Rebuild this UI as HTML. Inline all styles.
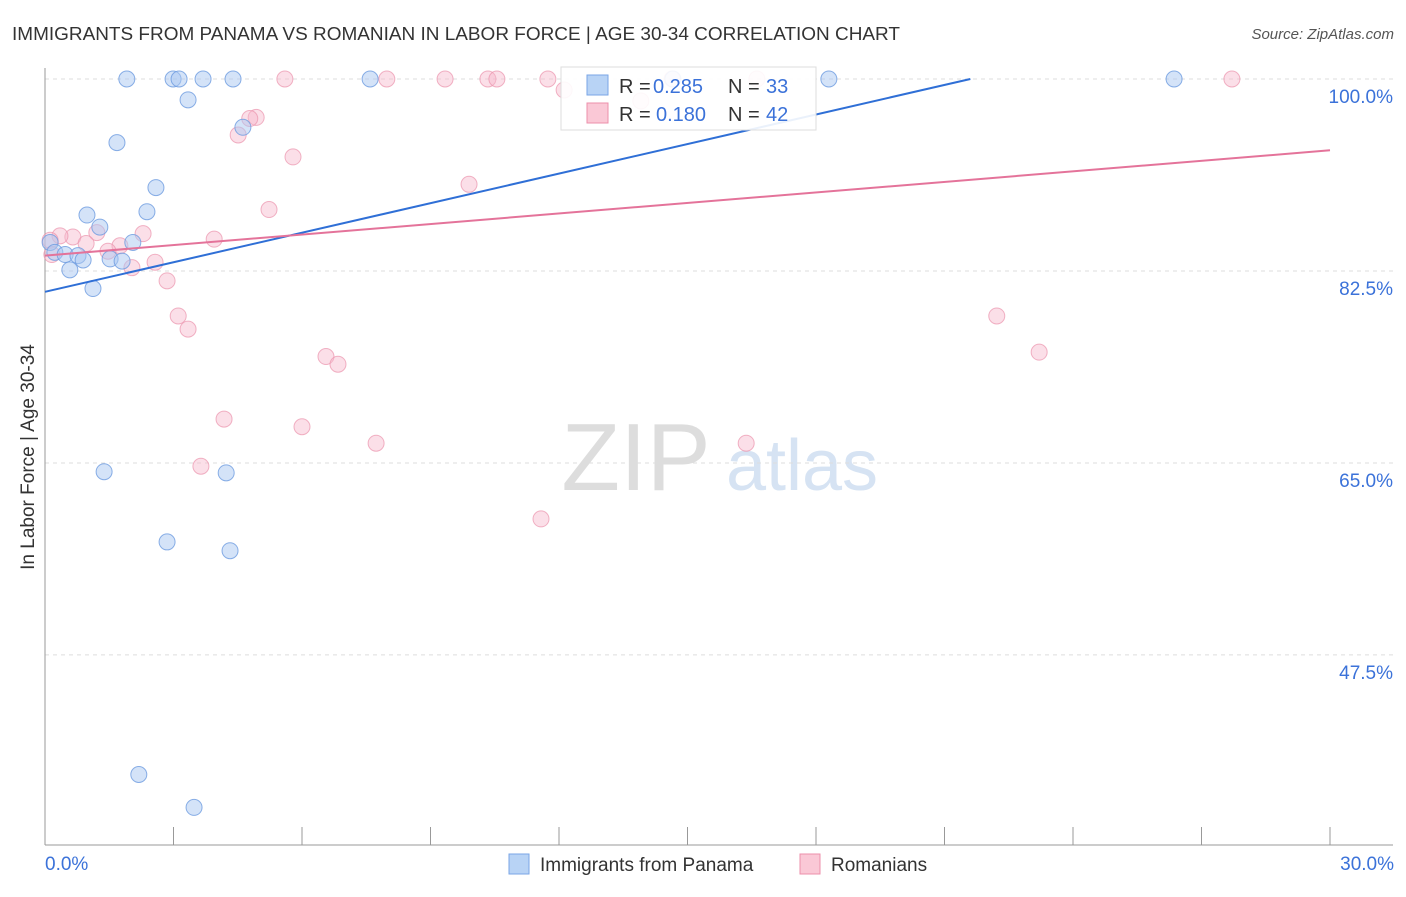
<!DOCTYPE html>
<html><head><meta charset="utf-8"><style>
body{margin:0;background:#fff;font-family:"Liberation Sans",sans-serif;}
svg text{font-family:"Liberation Sans",sans-serif;}
</style></head><body>
<svg id="chart" width="1406" height="892" xmlns="http://www.w3.org/2000/svg">
<text x="12" y="40" font-size="18" fill="#333" textLength="888" lengthAdjust="spacingAndGlyphs">IMMIGRANTS FROM PANAMA VS ROMANIAN IN LABOR FORCE | AGE 30-34 CORRELATION CHART</text>
<text x="1394" y="39" font-size="15" fill="#555" font-style="italic" text-anchor="end">Source: ZipAtlas.com</text>
<g>
<text x="636" y="490" font-size="96" fill="#ddd" font-family="Liberation Serif" text-anchor="middle">ZIP</text>
<text x="802" y="490" font-size="72" fill="#d6e3f3" text-anchor="middle">atlas</text>
</g>
<g id="grid"></g>
<g id="axes"></g>
<g id="points"></g>
<g id="lines"></g>
<text x="34" y="457" font-size="19" fill="#333" text-anchor="middle" transform="rotate(-90 34 457)">In Labor Force | Age 30-34</text>
<text x="45" y="870" font-size="19" fill="#3b72d9">0.0%</text>
<text x="1394" y="870" font-size="19" fill="#3b72d9" text-anchor="end">30.0%</text>
<g>
<rect x="561" y="67" width="255" height="63" fill="#fff" fill-opacity="0.9" stroke="#ddd"/>
<rect x="587" y="75" width="21" height="20" fill="#b8d3f5" stroke="#7aa6e6"/>
<text x="619" y="93" font-size="20" fill="#333">R =</text>
<text x="653" y="93" font-size="20" fill="#3b72d9">0.285</text>
<text x="728" y="93" font-size="20" fill="#333">N =</text>
<text x="766" y="93" font-size="20" fill="#3b72d9">33</text>
<rect x="587" y="103" width="21" height="20" fill="#fac8d6" stroke="#ec8fab"/>
<text x="619" y="121" font-size="20" fill="#333">R =</text>
<text x="656" y="121" font-size="20" fill="#3b72d9">0.180</text>
<text x="728" y="121" font-size="20" fill="#333">N =</text>
<text x="766" y="121" font-size="20" fill="#3b72d9">42</text>
</g>
<g>
<rect x="509" y="854" width="20" height="20" fill="#b8d3f5" stroke="#7aa6e6"/>
<text x="540" y="871" font-size="19" fill="#333">Immigrants from Panama</text>
<rect x="800" y="854" width="20" height="20" fill="#fac8d6" stroke="#ec8fab"/>
<text x="831" y="871" font-size="19" fill="#333">Romanians</text>
</g>
</svg>
<script>
const yTicks=[100,82.5,65,47.5];
const yTickLabels=["100.0%","82.5%","65.0%","47.5%"];
const xTicks=[3,6,9,12,15,18,21,24,27,30];
const blueX=[1.91,2.99,3.13,3.69,4.39,7.59,18.30,26.36,14.66,3.34,1.68,4.62,2.59,2.38,0.98,1.28,2.05,0.12,0.23,0.47,0.77,0.89,1.52,1.80,0.58,1.12,1.38,4.23,2.85,4.32,2.19,3.48];
const blueY=[100,100,100,100,100,100,100,100,100,98.1,94.2,95.6,90.1,87.9,87.6,86.5,85.1,85.1,84.2,84.0,83.9,83.5,83.6,83.4,82.6,80.9,64.2,64.1,57.8,57.0,36.6,33.6];
const pinkX=[5.60,7.98,9.34,10.34,10.55,11.74,12.12,13.91,16.62,27.71,14.64,4.93,4.78,4.51,5.79,9.90,5.23,3.95,2.29,1.21,0.65,0.35,0.12,0.96,1.75,1.47,0.16,2.57,2.03,2.85,3.11,3.34,6.56,6.84,4.18,6.00,7.73,3.64,11.58,16.37,22.22,23.21];
const pinkY=[100,100,100,100,100,100,99,98.0,100,100,100,96.5,96.4,94.9,92.9,90.4,88.1,85.4,85.9,86.0,85.6,85.7,85.3,85.0,84.8,84.3,84.0,83.3,82.8,81.6,78.4,77.2,74.7,74.0,69.0,68.3,66.8,64.7,59.9,66.8,78.4,75.1];
const blueLine=[80.6,0.898];
const pinkLine=[83.9,0.32];
const NS="http://www.w3.org/2000/svg";
const X=v=>45+v/30*1285;
const Y=v=>79+(100-v)*10.97;
function mk(t,a,p){const e=document.createElementNS(NS,t);for(const k in a)e.setAttribute(k,a[k]);document.getElementById(p).appendChild(e);return e;}
yTicks.forEach((t,i)=>{
 const l=mk('line',{x1:45,x2:1393,y1:Y(t),y2:Y(t),stroke:'#ddd','stroke-dasharray':'4,4'},'grid');
 
 
 const tx=mk('text',{x:1393,y:Y(t)+24,'font-size':19,fill:'#3b72d9','text-anchor':'end'},'grid');
 tx.textContent=yTickLabels[i];
 
 
});
let a=mk('line',{x1:45,x2:45,y1:68,y2:845,stroke:'#999'},'axes');


a=mk('line',{x1:45,x2:1393,y1:845,y2:845,stroke:'#999'},'axes');


xTicks.forEach(t=>{
 const l=mk('line',{x1:X(t),x2:X(t),y1:827,y2:845,stroke:'#999'},'axes');
 
 
});
pinkX.forEach((v,i)=>{
 const c=mk('circle',{cx:X(v),cy:Y(pinkY[i]),r:8,fill:'#f7b8cb','fill-opacity':0.45,stroke:'#eb93ad','stroke-opacity':0.7},'points');
 
 
});
blueX.forEach((v,i)=>{
 const c=mk('circle',{cx:X(v),cy:Y(blueY[i]),r:8,fill:'#a9c8f2','fill-opacity':0.5,stroke:'#6d9be0','stroke-opacity':0.8},'points');
 
 
});
const bx2=(100-blueLine[0])/blueLine[1];
let ln=mk('line',{x1:X(0),y1:Y(blueLine[0]),x2:X(bx2),y2:Y(100),stroke:'#2f6fd6','stroke-width':2},'lines');


ln=mk('line',{x1:X(0),y1:Y(pinkLine[0]),x2:X(30),y2:Y(pinkLine[0]+30*pinkLine[1]),stroke:'#e4739a','stroke-width':2},'lines');


</script>
</body></html>
